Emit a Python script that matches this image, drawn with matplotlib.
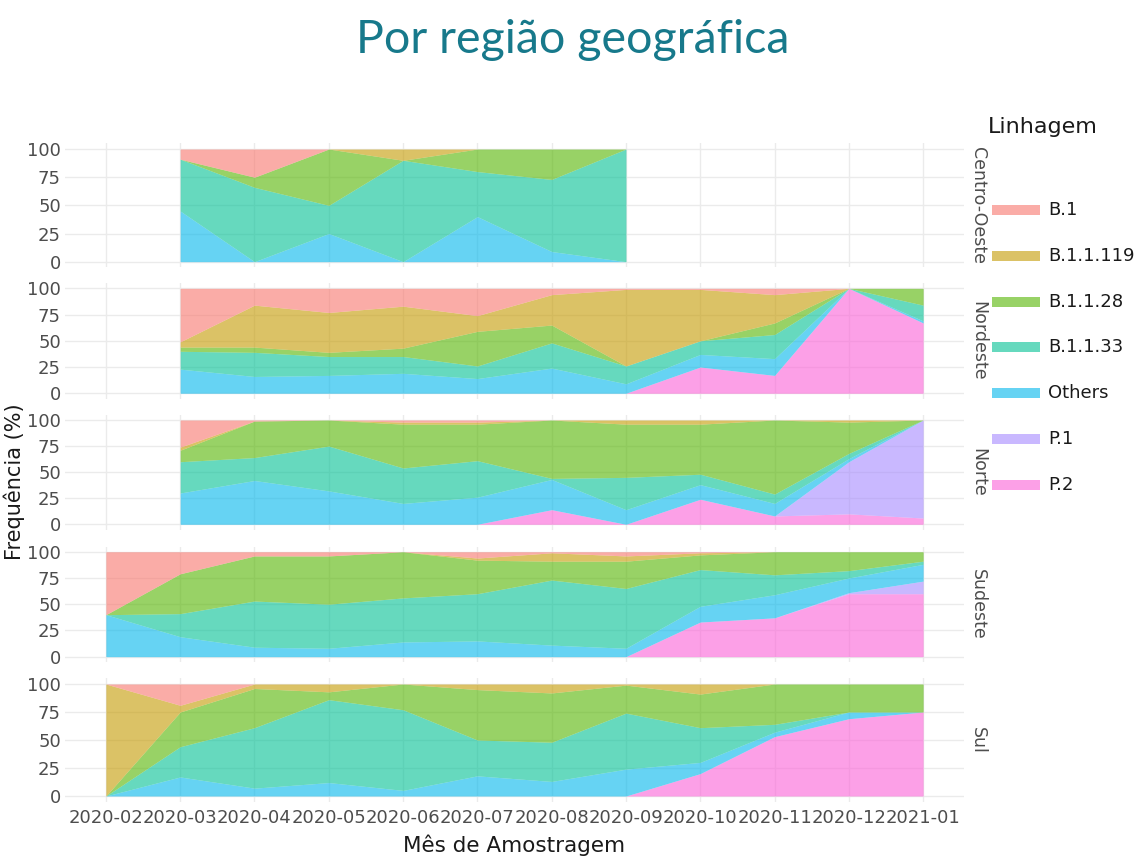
import numpy as np
import matplotlib
matplotlib.use("Agg")
import matplotlib.pyplot as plt
from matplotlib.lines import Line2D

N = np.nan

months = ['2020-02', '2020-03', '2020-04', '2020-05', '2020-06', '2020-07',
          '2020-08', '2020-09', '2020-10', '2020-11', '2020-12', '2021-01']
regions = ['Centro-Oeste', 'Nordeste', 'Norte', 'Sudeste', 'Sul']
lineages = ['B.1', 'B.1.1.119', 'B.1.1.28', 'B.1.1.33', 'Others', 'P.1', 'P.2']
lineage_colors = ['#F8766D', '#C49A00', '#53B400', '#00C094', '#00B6EB', '#A58AFF', '#FB61D7']
stack_order = ['P.2', 'P.1', 'Others', 'B.1.1.33', 'B.1.1.28', 'B.1.1.119', 'B.1']

centro_oeste = {
    'B.1':       [N, 9, 25, 0, 0, 0, 0, 0, N, N, N, N],
    'B.1.1.119': [N, 0, 0, 0, 10, 0, 0, 0, N, N, N, N],
    'B.1.1.28':  [N, 0, 9, 50, 0, 20, 27, 0, N, N, N, N],
    'B.1.1.33':  [N, 46, 66, 25, 90, 40, 64, 100, N, N, N, N],
    'Others':    [N, 45, 0, 25, 0, 40, 9, 0, N, N, N, N],
    'P.1':       [N, 0, 0, 0, 0, 0, 0, 0, N, N, N, N],
    'P.2':       [N, 0, 0, 0, 0, 0, 0, 0, N, N, N, N],
}
nordeste = {
    'B.1':       [N, 51, 16, 23, 17, 26, 6, 1, 1, 6, 0, 0],
    'B.1.1.119': [N, 5, 40, 38, 40, 15, 29, 73, 49, 27, 0, 0],
    'B.1.1.28':  [N, 4, 5, 4, 8, 33, 17, 0, 0, 11, 0, 16],
    'B.1.1.33':  [N, 17, 23, 18, 16, 12, 24, 17, 13, 23, 0, 15],
    'Others':    [N, 23, 16, 17, 19, 14, 24, 9, 12, 16, 0, 2],
    'P.1':       [N, 0, 0, 0, 0, 0, 0, 0, 0, 0, 0, 0],
    'P.2':       [N, 0, 0, 0, 0, 0, 0, 0, 25, 17, 100, 67],
}
norte = {
    'B.1':       [N, 26, 1, 0, 2, 2, 0, 0, 0, 0, 0, 0],
    'B.1.1.119': [N, 3, 0, 0, 2, 2, 0, 4, 4, 0, 2, 0],
    'B.1.1.28':  [N, 11, 35, 25, 42, 35, 56, 51, 48, 71, 30, 0],
    'B.1.1.33':  [N, 30, 22, 43, 34, 35, 1, 31, 10, 9, 5, 0],
    'Others':    [N, 30, 42, 32, 20, 26, 29, 14, 14, 12, 3, 0],
    'P.1':       [N, 0, 0, 0, 0, 0, 0, 0, 0, 0, 50, 94],
    'P.2':       [N, 0, 0, 0, 0, 0, 14, 0, 24, 8, 10, 6],
}
sudeste = {
    'B.1':       [60, 21, 4, 4, 0, 6, 1, 4, 1, 0, 0, 0],
    'B.1.1.119': [0, 0, 0, 0, 0, 2, 8, 5, 2, 0, 0, 0],
    'B.1.1.28':  [0, 38, 43, 46, 44, 32, 18, 26, 14, 22, 18, 9],
    'B.1.1.33':  [0, 22, 44, 42, 42, 45, 62, 57, 35, 19, 7, 3],
    'Others':    [40, 19, 9, 8, 14, 15, 11, 8, 15, 22, 14, 16],
    'P.1':       [0, 0, 0, 0, 0, 0, 0, 0, 0, 0, 1, 12],
    'P.2':       [0, 0, 0, 0, 0, 0, 0, 0, 33, 37, 60, 60],
}
sul = {
    'B.1':       [0, 19, 0, 0, 0, 0, 0, 0, 0, 0, 0, 0],
    'B.1.1.119': [100, 6, 4, 7, 0, 5, 8, 1, 9, 0, 0, 0],
    'B.1.1.28':  [0, 31, 35, 7, 23, 45, 44, 25, 30, 36, 25, 25],
    'B.1.1.33':  [0, 27, 54, 74, 72, 32, 35, 50, 31, 7, 0, 0],
    'Others':    [0, 17, 7, 12, 5, 18, 13, 24, 10, 4, 6, 0],
    'P.1':       [0, 0, 0, 0, 0, 0, 0, 0, 0, 0, 0, 0],
    'P.2':       [0, 0, 0, 0, 0, 0, 0, 0, 20, 53, 69, 75],
}
region_data = [centro_oeste, nordeste, norte, sudeste, sul]

color_map = dict(zip(lineages, lineage_colors))
ALPHA = 0.6
W, H = 1148, 857
fig = plt.figure(figsize=(W / 100, H / 100), dpi=100)

TICK_C = '#4d4d4d'
TXT_C = '#1a1a1a'
plt.rcParams['font.family'] = ['DejaVu Sans']

# panel pixel extents (top, bottom)
panels_px = [(143.4, 267.3), (283.1, 398.5), (414.8, 529.5), (546.5, 661.9), (678.4, 801.6)]
left_px, right_px = 65, 964

x = np.arange(len(months))
axes = []
for i, (region, data) in enumerate(zip(regions, region_data)):
    t, b = panels_px[i]
    ax = fig.add_axes([left_px / W, 1 - b / H, (right_px - left_px) / W, (b - t) / H])
    axes.append(ax)
    valid = ~np.isnan(np.array(data['B.1'], float))
    base = np.zeros(len(months))
    for lin in stack_order:
        v = np.nan_to_num(np.array(data[lin], float))
        top = base + v
        ax.fill_between(x[valid], base[valid], top[valid], color=color_map[lin],
                        alpha=ALPHA, linewidth=0, zorder=2)
        base = top
    ax.set_xlim(-0.55, len(months) - 1 + 0.55)
    ax.set_ylim(-5, 105)
    ax.set_yticks([0, 25, 50, 75, 100])
    ax.set_xticks(x)
    ax.grid(True, color='#ebebeb', linewidth=1.0, zorder=0)
    ax.set_axisbelow(True)
    for s in ax.spines.values():
        s.set_visible(False)
    ax.tick_params(length=0, labelsize=13, colors=TICK_C, pad=3)
    if i < len(regions) - 1:
        ax.set_xticklabels([])
    else:
        ax.set_xticklabels(months)
        ax.tick_params(axis='x', pad=5)
    fig.text(978 / W, 1 - ((t + b) / 2) / H, region, rotation=-90, ha='center', va='center',
             fontsize=12.5, color=TICK_C)

fig.text((left_px + right_px) / 2 / W, 1 - 845 / H, 'Mês de Amostragem', ha='center', va='center',
         fontsize=15.5, color=TXT_C)
fig.text(14 / W, 1 - 482 / H, 'Frequência (%)', rotation=90, ha='center', va='center',
         fontsize=15, color=TXT_C)

fig.text(573 / W, 1 - 53 / H, 'Por região geográfica', ha='center', va='baseline',
         fontsize=33.5, color='#17798b', family=['Lato', 'DejaVu Sans'])

# legend
fig.text(988 / W, 1 - 127 / H, 'Linhagem', ha='left', va='center', fontsize=16, color=TXT_C)
row_y = [210, 256, 302, 347, 393, 439, 485]
for lin, ry in zip(lineages, row_y):
    yy = 1 - ry / H
    fig.add_artist(Line2D([992 / W, 1040 / W], [yy, yy], transform=fig.transFigure,
                          color=color_map[lin], alpha=ALPHA, linewidth=7.2, solid_capstyle='butt'))
    fig.text(1048 / W, yy, lin, ha='left', va='center', fontsize=13, color=TXT_C)

fig.savefig('out.png', dpi=100)
